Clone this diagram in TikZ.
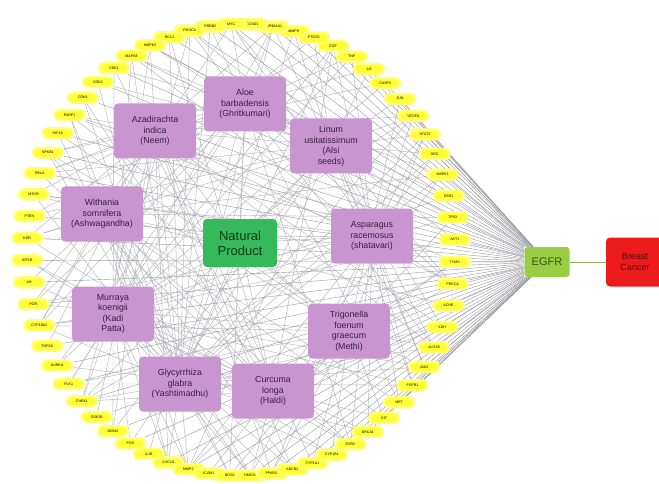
\documentclass[tikz,border=0pt]{standalone}
\usepackage{fontspec}
\setmainfont{Liberation Sans}
\pgfdeclarelayer{background}
\pgfsetlayers{background,main}
\definecolor{geneY}{HTML}{FFFF33}
\definecolor{plantP}{HTML}{C995D1}
\definecolor{plantT}{HTML}{3A1D42}
\definecolor{npG}{HTML}{35B95A}
\definecolor{npT}{HTML}{0F3A1C}
\definecolor{egG}{HTML}{9ACD45}
\definecolor{egT}{HTML}{2F5A12}
\definecolor{bcR}{HTML}{EC1C1C}
\definecolor{bcT}{HTML}{5A0A0A}
\definecolor{edgeC}{HTML}{B4B4BC}
\tikzset{
  gene/.style={fill=geneY, draw=geneY!65!white, line width=2.4pt, rounded corners=5pt,
    minimum width=30pt, minimum height=10pt, inner sep=0pt, font=\fontsize{3.6}{4}\selectfont},
  plant/.style={fill=plantP, rounded corners=4pt, minimum width=82pt, minimum height=55pt,
    align=center, text=plantT, font=\fontsize{8.8}{10.5}\selectfont, inner sep=1pt},
  link/.style={draw=edgeC, line width=0.45pt},
  fan/.style={draw=edgeC!85!black, line width=0.4pt},
}
\begin{document}
\begin{tikzpicture}[x=1pt,y=-1pt]
\useasboundingbox (0,0) rectangle (659,484);
% gene ring
\foreach \g [count=\i] in {AKT1,TP53,ESR1,MAPK1,SRC,STAT3,VEGFA,JUN,CASP3,IL6,TNF,EGF,PTGS2,MMP9,HSP90AA1,CCND1,MYC,ERBB2,PIK3CA,BCL2,MAPK3,MAPK8,CDK1,CDK2,CDK4,PARP1,HIF1A,NFKB1,RELA,MTOR,PTEN,KDR,IGF1R,AR,PGR,CYP19A1,TOP2A,AURKA,PLK1,CHEK1,GSK3B,MDM2,FOS,IL1B,CXCL8,MMP2,ICAM1,NOS2,HMOX1,PPARG,ABCB1,CYP1A1,CYP1B1,ESR2,BRCA1,KIT,MET,FGFR1,JAK2,ALOX5,XDH,ACHE,PRKCA,TYMS}{
  \pgfmathsetmacro\ang{-3+\i*5.625}
  \node[gene] (g\i) at ({241+214*cos(\ang)},{250-226*sin(\ang)}) {\g};
}
% plants
\node[plant] (p1) at (155,131) {Azadirachta\\indica\\(Neem)};
\node[plant] (p2) at (245,104) {Aloe\\barbadensis\\(Ghritkumari)};
\node[plant] (p3) at (331,146) {Linum\\usitatissimum\\(Alsi\\seeds)};
\node[plant] (p4) at (102,214) {Withania\\somnifera\\(Ashwagandha)};
\node[plant] (p5) at (372,236) {Asparagus\\racemosus\\(shatavari)};
\node[plant] (p6) at (113,314) {Murraya\\koenigii\\(Kadi\\Patta)};
\node[plant] (p7) at (349,331) {Trigonella\\foenum\\graecum\\(Methi)};
\node[plant] (p8) at (180,384) {Glycyrrhiza\\glabra\\(Yashtimadhu)};
\node[plant] (p9) at (273,391) {Curcuma\\longa\\(Haldi)};
\node[fill=npG, rounded corners=4pt, minimum width=74pt, minimum height=48pt, align=center,
  text=npT, font=\fontsize{13}{15}\selectfont, inner sep=1pt] (np) at (240,243) {Natural\\Product};
\node[fill=egG, rounded corners=3pt, minimum width=45pt, minimum height=30pt, text=egT,
  font=\fontsize{11}{13}\selectfont, inner sep=1pt] (egfr) at (547,262) {EGFR};
\node[fill=bcR, rounded corners=4pt, minimum width=58pt, minimum height=49pt, align=center,
  text=bcT, font=\fontsize{9}{10.5}\selectfont, inner sep=1pt] (bc) at (635,262) {Breast\\Cancer};
\begin{pgfonlayer}{background}
  \pgfmathsetseed{11}
  \foreach \k in {1,...,9}{
    \draw[link] (np) -- (p\k);
    \foreach \i in {1,...,64}{
      \pgfmathtruncatemacro\hit{rnd<0.32}
      \ifnum\hit=1 \draw[link] (p\k) -- (g\i);\fi
    }
  }
  \foreach \i in {1,...,64}{\draw[fan] (g\i) -- (egfr);}
  \draw[draw=egG!60!gray, line width=0.6pt] (egfr) -- (bc);
\end{pgfonlayer}
\end{tikzpicture}
\end{document}
